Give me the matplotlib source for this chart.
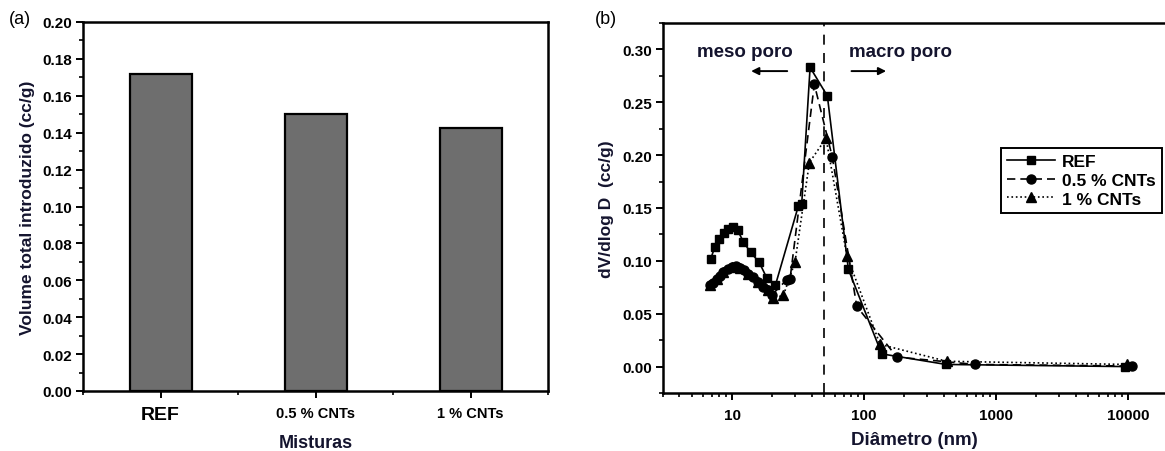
import matplotlib
matplotlib.use("Agg")
import matplotlib.pyplot as plt
from matplotlib.ticker import MultipleLocator, LogLocator, NullFormatter, FixedLocator

plt.rcParams['font.family'] = ['Liberation Sans', 'DejaVu Sans']

# ---- data (a)
categories = ['REF', '0.5 % CNTs', '1 % CNTs']
volumes = [0.172, 0.150, 0.1425]

# ---- data (b)
ref_d = [6.9, 7.4, 8.0, 8.7, 9.3, 10.1, 11.0, 12.2, 13.8, 16.0, 18.3, 21.3,
         31.8, 33.7, 39.0, 52.7, 76, 136, 418, 9500]
ref_v = [0.102, 0.113, 0.121, 0.126, 0.130, 0.132, 0.129, 0.118, 0.108, 0.099, 0.084, 0.077,
         0.152, 0.154, 0.283, 0.256, 0.092, 0.012, 0.002, 0.000]

c05_d = [6.8, 7.2, 7.7, 8.1, 8.6, 9.3, 9.95, 10.7, 11.5, 12.4, 13.3, 14.5, 15.8, 17.3,
         18.7, 20.1, 25.9, 27.5, 42, 57.5, 88, 177, 693, 10700]
c05_v = [0.077, 0.0795, 0.083, 0.086, 0.089, 0.092, 0.094, 0.095, 0.093, 0.091, 0.088, 0.085,
         0.080, 0.0755, 0.072, 0.068, 0.082, 0.083, 0.267, 0.198, 0.057, 0.009, 0.002, 0.0005]

c1_d = [6.8, 7.7, 8.6, 9.95, 11.5, 13.3, 15.8, 18.7, 20.5, 24.5, 30.0, 38.5, 51.5,
        74, 132, 423, 9800]
c1_v = [0.077, 0.083, 0.089, 0.094, 0.093, 0.088, 0.080, 0.072, 0.0645, 0.0675, 0.099,
        0.193, 0.216, 0.105, 0.021, 0.005, 0.002]

series_labels = ['REF', '0.5 % CNTs', '1 % CNTs']
boundary_nm = 50

txt = '#14142e'

fig = plt.figure(figsize=(11.65, 4.52), dpi=100)

# ---------------- panel (a)
axa = fig.add_axes([83/1165, 60/452, (548-83)/1165, (392-23)/452])
x = range(len(categories))
axa.bar(x, volumes, width=0.4, color='#6e6e6e', edgecolor='black', linewidth=1.6, zorder=2)
axa.set_xlim(-0.5, 2.5)
axa.set_ylim(0, 0.20)
axa.set_xticks(list(x))
axa.set_xticklabels(categories, fontweight='bold')
for lab, fs in zip(axa.get_xticklabels(), [14, 10.5, 10.5]):
    lab.set_fontsize(fs)
axa.xaxis.set_minor_locator(FixedLocator([-0.5, 0.5, 1.5, 2.5]))
axa.yaxis.set_major_locator(MultipleLocator(0.02))
axa.yaxis.set_minor_locator(MultipleLocator(0.01))
axa.yaxis.set_major_formatter(matplotlib.ticker.FormatStrFormatter('%.2f'))
for lab in axa.get_yticklabels():
    lab.set_fontweight('bold')
    lab.set_fontsize(11)
axa.tick_params(axis='both', which='major', direction='out', length=5, width=1.4,
                colors='black', pad=3)
axa.tick_params(axis='both', which='minor', direction='out', length=3, width=1.2)
axa.tick_params(axis='x', which='major', pad=6)
for s in axa.spines.values():
    s.set_linewidth(1.8)
axa.set_xlabel('Misturas', fontsize=13, fontweight='bold', color=txt, labelpad=8)
axa.set_ylabel('Volume total introduzido (cc/g)', fontsize=12.5, fontweight='bold', color=txt, labelpad=5)
fig.text(9/1165, 1 - 20/452, '(a)', fontsize=13, va='center', ha='left')

# ---------------- panel (b)
axb = fig.add_axes([663/1165, 58/452, (1165-663)/1165, (394-24)/452])
axb.plot(c1_d, c1_v, linestyle=':', color='black', linewidth=1.2, marker='^',
         markersize=6.5, label=series_labels[2], zorder=3)
axb.plot(c05_d, c05_v, linestyle='--', color='black', linewidth=1.2, marker='o',
         markersize=6.5, dashes=(5, 3), label=series_labels[1], zorder=4)
axb.plot(ref_d, ref_v, linestyle='-', color='black', linewidth=1.2, marker='s',
         markersize=6, label=series_labels[0], zorder=5)
axb.axvline(boundary_nm, color='black', linestyle='--', linewidth=1.2, dashes=(6, 5), zorder=1)
axb.set_xscale('log')
axb.set_xlim(3.0, 19000)
axb.set_ylim(-0.025, 0.325)
axb.yaxis.set_major_locator(MultipleLocator(0.05))
axb.yaxis.set_minor_locator(MultipleLocator(0.025))
axb.yaxis.set_major_formatter(matplotlib.ticker.FormatStrFormatter('%.2f'))
axb.xaxis.set_major_locator(FixedLocator([10, 100, 1000, 10000]))
axb.xaxis.set_major_formatter(matplotlib.ticker.FixedFormatter(['10', '100', '1000', '10000']))
axb.xaxis.set_minor_locator(LogLocator(base=10, subs=range(2, 10), numticks=20))
axb.xaxis.set_minor_formatter(NullFormatter())
for lab in axb.get_yticklabels() + axb.get_xticklabels():
    lab.set_fontweight('bold')
    lab.set_fontsize(11)
axb.tick_params(axis='both', which='major', direction='out', length=5, width=1.4,
                colors='black', pad=3)
axb.tick_params(axis='both', which='minor', direction='out', length=3, width=1.2)
axb.tick_params(axis='x', which='major', pad=6)
for s in axb.spines.values():
    s.set_linewidth(1.8)
axb.spines['right'].set_visible(False)
axb.set_xlabel('Diâmetro (nm)', fontsize=13.5, fontweight='bold', color=txt, labelpad=6)
axb.set_ylabel('dV/dlog D  (cc/g)', fontsize=12.5, fontweight='bold', color=txt, labelpad=6)
fig.text(595/1165, 1 - 20/452, '(b)', fontsize=13, va='center', ha='left')

# annotations
axb.text(0.163, 0.924, 'meso poro', transform=axb.transAxes, fontsize=13.5,
         fontweight='bold', color=txt, ha='center', va='center')
axb.text(0.474, 0.924, 'macro poro', transform=axb.transAxes, fontsize=13.5,
         fontweight='bold', color=txt, ha='center', va='center')
axb.annotate('', xy=(0.170, 0.870), xytext=(0.253, 0.870), xycoords='axes fraction',
             arrowprops=dict(arrowstyle='-|>', color='black', lw=1.4, mutation_scale=11))
axb.annotate('', xy=(0.450, 0.870), xytext=(0.370, 0.870), xycoords='axes fraction',
             arrowprops=dict(arrowstyle='-|>', color='black', lw=1.4, mutation_scale=11))

# legend in REF, 0.5, 1 order
h, l = axb.get_legend_handles_labels()
order = [2, 1, 0]
leg = axb.legend([h[i] for i in order], [l[i] for i in order], loc='upper right',
                 bbox_to_anchor=(0.994, 0.662), borderaxespad=0, fancybox=False,
                 framealpha=1, edgecolor='black', handlelength=2.8,
                 prop={'weight': 'bold', 'size': 12.5}, labelspacing=0.2,
                 borderpad=0.35, handletextpad=0.4)
leg.get_frame().set_linewidth(1.4)

fig.savefig('out.png', dpi=100)
